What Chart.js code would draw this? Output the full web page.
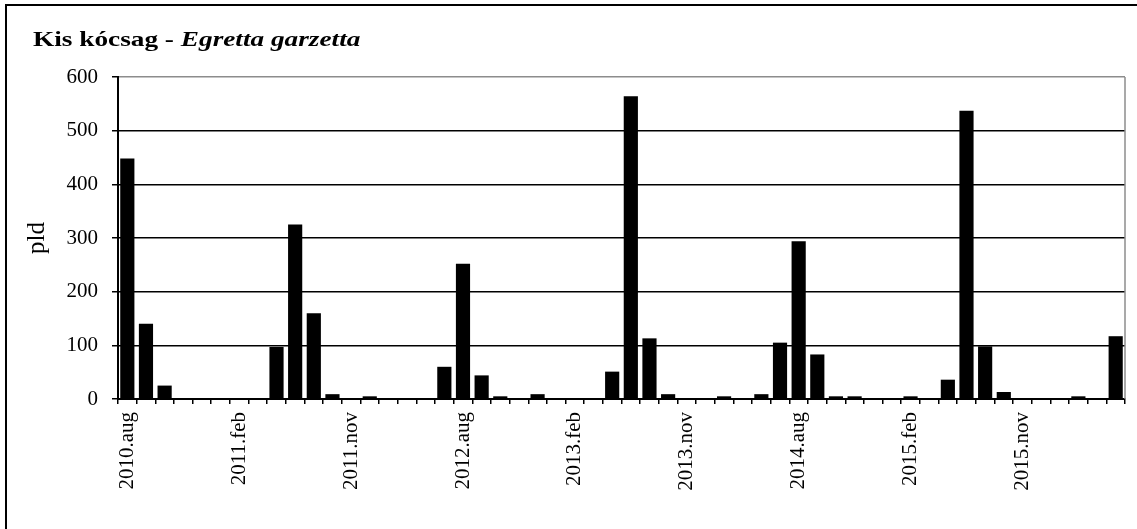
<!DOCTYPE html>
<html><head><meta charset="utf-8">
<script src="https://cdn.jsdelivr.net/npm/chart.js@4"></script>
<style>
html,body{margin:0;padding:0;background:#fff;}
#wrap{position:relative;width:1137px;height:529px;overflow:hidden;background:#fff;}
#frame{position:absolute;left:5px;top:4px;width:1200px;height:600px;border-left:2px solid #000;border-top:2px solid #000;}
#title{position:absolute;left:33px;top:28px;font-family:"Liberation Serif",serif;font-weight:bold;font-size:22px;line-height:1;white-space:nowrap;color:#000;transform:scaleX(1.24);transform-origin:0 0;}
canvas{position:absolute;left:0;top:0;}
</style></head><body>
<div id="wrap"><div id="frame"></div><canvas id="c" width="1137" height="529"></canvas><div id="title">Kis kócsag - <i>Egretta garzetta</i></div></div>
<script>
const categories = [
 '2010.aug','','','','','',
 '2011.feb','','','','','',
 '2011.nov','','','','','',
 '2012.aug','','','','','',
 '2013.feb','','','','','',
 '2013.nov','','','','','',
 '2014.aug','','','','','',
 '2015.feb','','','','','',
 '2015.nov','','','','',''
];
const counts = [
 448,140,25,0,0,0,
 0,0,97,325,160,9,
 0,5,0,0,0,60,
 252,44,5,0,9,0,
 0,0,51,564,113,9,
 0,0,5,0,9,105,
 294,83,5,5,0,0,
 5,0,36,537,98,13,
 0,0,0,5,0,117
];
const yTicks = [0,100,200,300,400,500,600];

const plotFrame = {
  id:'plotFrame',
  afterDatasetsDraw(c){
    const {ctx, chartArea:a} = c;
    ctx.save();
    ctx.strokeStyle = '#8c8c8c';
    ctx.lineWidth = 1.5;
    ctx.beginPath();
    ctx.moveTo(a.right, a.top);
    ctx.lineTo(a.right, a.bottom);
    ctx.stroke();
    ctx.restore();
  }
};

const serif = 'Liberation Serif';
new Chart(document.getElementById('c'), {
  type:'bar',
  data:{
    labels:categories,
    datasets:[{
      data:counts,
      backgroundColor:'#000',
      borderColor:'#000',
      borderWidth:0,
      categoryPercentage:1,
      barPercentage:0.76
    }]
  },
  options:{
    responsive:false,
    animation:false,
    events:[],
    layout:{padding:{top:77,right:12,left:0,bottom:0}},
    plugins:{legend:{display:false},tooltip:{enabled:false},title:{display:false}},
    scales:{
      x:{
        type:'category',
        offset:true,
        grid:{offset:true,drawOnChartArea:false,drawTicks:true,tickLength:5,color:'#000',tickColor:'#000',lineWidth:1.5},
        border:{display:true,color:'#000',width:2},
        ticks:{autoSkip:false,maxRotation:90,minRotation:90,padding:8,color:'#000',font:{family:serif,size:21}},
        afterFit(s){ s.height = 130; s.paddingRight = 0; s.paddingLeft = 0; }
      },
      y:{
        min:0,max:600,
        afterBuildTicks(s){ s.ticks = yTicks.map(v=>({value:v})); },
        ticks:{padding:14,color:'#000',font:{family:serif,size:21}},
        grid:{color:ctx=> (ctx.tick && ctx.tick.value===600) ? '#8c8c8c' : '#000',tickColor:'#000',lineWidth:1.5,tickLength:6,drawTicks:true},
        border:{display:true,color:'#000',width:2},
        title:{display:true,text:'pld',color:'#000',font:{family:serif,size:25},padding:{top:22,bottom:0}},
        afterFit(s){ s.width = 118; }
      }
    }
  },
  plugins:[plotFrame]
});
</script>
</body></html>
